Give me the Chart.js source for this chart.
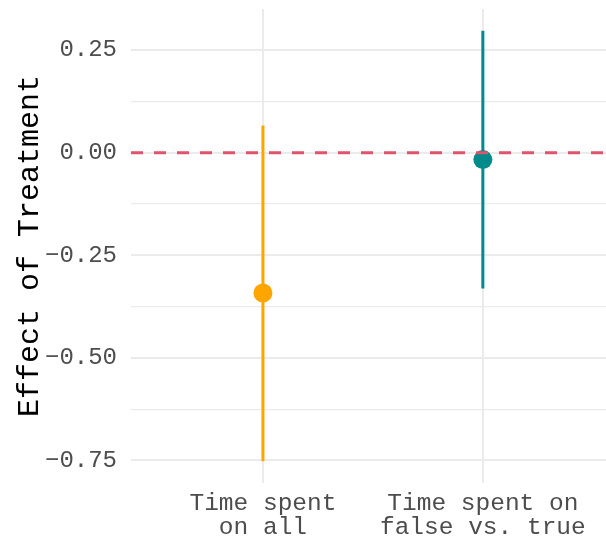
<!DOCTYPE html>
<html>
<head>
<meta charset="utf-8">
<script src="https://cdn.jsdelivr.net/npm/chart.js@4.4.1/dist/chart.umd.min.js"></script>
<style>
  html, body { margin: 0; padding: 0; background: #fff; }
  #wrap { width: 606px; height: 541px; }
</style>
</head>
<body>
<div id="wrap"><canvas id="c"></canvas></div>
<script>
// categories, in the order they sit on the x axis
const categories = [['Time spent', 'on all'], ['Time spent on', 'false vs. true']]
const estimates = [-0.342, -0.017]
const lowers = [-0.752, -0.331]
const uppers = [0.066, 0.297]
const colours = ['#FFA500', '#008B8B']

const yMajor = [-0.75, -0.5, -0.25, 0, 0.25]
const yMinor = [-0.625, -0.375, -0.125, 0.125]
const refLine = 0

const xMin = 0.4
const xMax = 2.56
const yMin = -0.805
const yMax = 0.35

const font = 'Liberation Mono'
const fmt = v => {
  const s = Math.abs(v).toFixed(2)
  return v < -1e-9 ? '\u2212' + s : s
}

const datasets = []

// dashed reference line, drawn on top
datasets.push({
  type: 'line',
  data: [{ x: xMin, y: refLine }, { x: xMax, y: refLine }],
  borderColor: '#DF536D',
  borderWidth: 3,
  borderDash: [12, 11],
  pointRadius: 0,
  order: 0,
})

// points
datasets.push({
  type: 'scatter',
  data: estimates.map((v, i) => ({ x: i + 1, y: v })),
  backgroundColor: colours,
  borderColor: colours,
  pointRadius: 9.5,
  pointBorderWidth: 0,
  order: 1,
})

// error bars
categories.forEach((c, i) => {
  datasets.push({
    type: 'line',
    data: [{ x: i + 1, y: lowers[i] }, { x: i + 1, y: uppers[i] }],
    borderColor: colours[i],
    borderWidth: 3,
    pointRadius: 0,
    order: 2,
  })
})

new Chart(document.getElementById('c'), {
  type: 'scatter',
  data: { datasets },
  options: {
    responsive: true,
    maintainAspectRatio: false,
    animation: false,
    layout: { autoPadding: false, padding: { top: 9, left: 0, right: 0, bottom: 0 } },
    plugins: { legend: { display: false }, tooltip: { enabled: false } },
    scales: {
      x: {
        type: 'linear',
        min: xMin,
        max: xMax,
        afterBuildTicks: s => { s.ticks = categories.map((c, i) => ({ value: i + 1 })) },
        afterFit: s => {
          s.height = 58
          s.paddingLeft = 0
          s.paddingRight = 0
        },
        border: { display: false },
        grid: { color: '#EBEBEB', lineWidth: 2, drawTicks: false },
        ticks: {
          callback: (v, i) => categories[i],
          color: '#4D4D4D',
          font: { family: font, size: 24.5, lineHeight: 1.0 },
          padding: 8,
          maxRotation: 0,
          autoSkip: false,
        },
      },
      y: {
        type: 'linear',
        min: yMin,
        max: yMax,
        afterBuildTicks: s => {
          s.ticks = yMajor.concat(yMinor).sort((a, b) => a - b).map(v => ({ value: v }))
        },
        afterFit: s => {
          s.width = 131
          s.paddingTop = 0
          s.paddingBottom = 0
        },
        border: { display: false },
        grid: {
          color: '#EBEBEB',
          lineWidth: c => (yMajor.includes(c.tick.value) ? 2 : 1.2),
          drawTicks: false,
        },
        ticks: {
          callback: v => (yMajor.includes(v) ? fmt(v) : ''),
          color: '#4D4D4D',
          font: { family: font, size: 24 },
          padding: 14,
          autoSkip: false,
        },
        title: {
          display: true,
          text: 'Effect of Treatment',
          color: '#000',
          font: { family: font, size: 30 },
          padding: { top: 12, bottom: 0 },
        },
      },
    },
  },
})
</script>
</body>
</html>
